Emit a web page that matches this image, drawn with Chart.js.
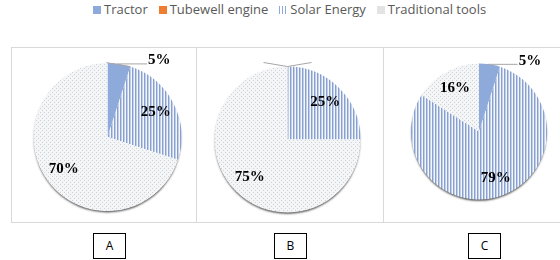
<!DOCTYPE html>
<html>
<head>
<meta charset="utf-8">
<script src="https://cdn.jsdelivr.net/npm/chart.js@4.4.1/dist/chart.umd.min.js"></script>
<style>
  body { margin: 0; background: #fff; width: 560px; height: 260px; position: relative; overflow: hidden; font-family: "Open Sans", sans-serif; }
  #legend { position: absolute; left: 93px; top: 0px; font-size: 13px; color: #595959; white-space: nowrap; }
  #legend span.item { margin-right: 11px; }
  #legend i { display: inline-block; width: 8px; height: 8px; margin-right: 3px; vertical-align: 0px; }
  .frame { position: absolute; top: 47px; height: 174px; border-top: 1px solid #d9d9d9; border-bottom: 1px solid #d9d9d9; border-left: 1px solid #d9d9d9; }
  .frame canvas { position: absolute; left: 0; top: 0; }
  .tag { position: absolute; top: 233px; width: 31px; height: 24px; border: 1px solid #000; font-size: 12px; line-height: 24px; text-align: center; color: #000; }
</style>
</head>
<body>
<div id="legend"></div>
<div class="frame" id="fA" style="left:11px;width:184px;"><canvas id="chartA"></canvas></div>
<div class="frame" id="fB" style="left:196px;width:186px;"><canvas id="chartB"></canvas></div>
<div class="frame" id="fC" style="left:383px;width:177px;border-right:none;"><canvas id="chartC"></canvas></div>
<div class="tag" style="left:93px;">A</div>
<div class="tag" style="left:274px;">B</div>
<div class="tag" style="left:468px;">C</div>
<script>
const categories = ["Tractor", "Tubewell engine", "Solar Energy", "Traditional tools"];
const valuesA = [5, 0, 25, 70];
const valuesB = [0, 0, 25, 75];
const valuesC = [5, 0, 79, 16];

// fill patterns, like the office chart
function makePattern(w, h, paint) {
  const c = document.createElement("canvas");
  c.width = w; c.height = h;
  const g = c.getContext("2d");
  paint(g);
  return document.createElement("canvas").getContext("2d").createPattern(c, "repeat");
}
const stripes = makePattern(3, 1, g => {
  g.fillStyle = "#f3f6fb"; g.fillRect(0, 0, 3, 1);
  g.fillStyle = "#87a0cf"; g.fillRect(0, 0, 1, 1);
  g.fillStyle = "#c2cfe7"; g.fillRect(1, 0, 1, 1);
});
const dots = makePattern(4, 4, g => {
  g.fillStyle = "#f4f5f7"; g.fillRect(0, 0, 4, 4);
  g.fillStyle = "#ced2d9"; g.fillRect(0, 0, 1, 1);
  g.fillRect(2, 2, 1, 1);
});
const fills = ["#8eaadb", "#ed7d31", stripes, dots];

// legend
const legendCss = [
  "background:#8eaadb",
  "background:#ed7d31",
  "background:repeating-linear-gradient(90deg,#8eaadb 0 1px,#fff 1px 3px)",
  "background:#e3e3e3"
];
document.getElementById("legend").innerHTML = categories
  .map((c, i) => `<span class="item"><i style="${legendCss[i]}"></i>${c}</span>`)
  .join("");

const pieShadow = {
  id: "pieShadow",
  beforeDatasetsDraw(chart) {
    const arc = chart.getDatasetMeta(0).data[0];
    if (!arc) return;
    const { x, y, outerRadius } = arc.getProps(["x", "y", "outerRadius"], true);
    const ctx = chart.ctx;
    ctx.save();
    ctx.shadowColor = "rgba(0,0,0,0.6)";
    ctx.shadowBlur = 2;
    ctx.shadowOffsetY = 2;
    ctx.fillStyle = "#ffffff";
    ctx.beginPath();
    ctx.arc(x, y, outerRadius - 0.5, 0, Math.PI * 2);
    ctx.fill();
    ctx.restore();
  }
};

const pieLabels = {
  id: "pieLabels",
  afterDatasetsDraw(chart, args, opts) {
    const ctx = chart.ctx;
    const values = chart.data.datasets[0].data;
    const arcs = chart.getDatasetMeta(0).data;
    ctx.save();
    ctx.font = "bold 15px 'Liberation Serif', serif";
    ctx.fillStyle = "#000";
    ctx.strokeStyle = "#a6a6a6";
    ctx.lineWidth = 1;
    let zeroCount = 0;
    arcs.forEach((arc, i) => {
      const p = arc.getProps(["x", "y", "startAngle", "endAngle", "outerRadius"], true);
      const mid = (p.startAngle + p.endAngle) / 2;
      const ex = p.x + Math.cos(mid) * p.outerRadius;
      const ey = p.y + Math.sin(mid) * p.outerRadius;
      const v = values[i];
      if (v === 0) {
        if (!opts.zeroLeaders) return;
        const dir = zeroCount++ % 2 === 0 ? -1 : 1;
        ctx.beginPath();
        ctx.moveTo(ex, ey);
        ctx.lineTo(ex + dir * 24, ey - 4);
        ctx.stroke();
        return;
      }
      if (v < 10) {
        ctx.beginPath();
        ctx.moveTo(ex - 2, ey);
        ctx.lineTo(ex + 28, ey);
        ctx.stroke();
        ctx.textAlign = "left";
        ctx.textBaseline = "bottom";
        ctx.fillText(v + "%", ex + 29, ey + 4);
        return;
      }
      const r = p.outerRadius * 0.73;
      ctx.textAlign = "center";
      ctx.textBaseline = "middle";
      ctx.fillText(v + "%", p.x + Math.cos(mid) * r, p.y + Math.sin(mid) * r);
    });
    ctx.restore();
  }
};

function drawPie(id, values, w, h, cx, cy, radius, zeroLeaders) {
  const canvas = document.getElementById(id);
  const pad = {
    left: Math.max(0, 2 * cx - w), right: Math.max(0, w - 2 * cx),
    top: Math.max(0, 2 * cy - h), bottom: Math.max(0, h - 2 * cy)
  };
  canvas.style.width = w + "px";
  canvas.style.height = h + "px";
  canvas.width = w; canvas.height = h;
  return new Chart(canvas, {
    type: "pie",
    data: {
      labels: categories,
      datasets: [{ data: values, backgroundColor: fills, borderWidth: 0, radius: radius }]
    },
    options: {
      responsive: false,
      animation: false,
      layout: { padding: pad },
      plugins: { legend: { display: false }, tooltip: { enabled: false }, pieLabels: { zeroLeaders: zeroLeaders } }
    },
    plugins: [pieShadow, pieLabels]
  });
}

drawPie("chartA", valuesA, 184, 174, 95.5, 89, 74, true);
drawPie("chartB", valuesB, 186, 174, 90.5, 91.5, 73, true);
drawPie("chartC", valuesC, 177, 174, 95, 83.5, 68, false);
</script>
</body>
</html>
